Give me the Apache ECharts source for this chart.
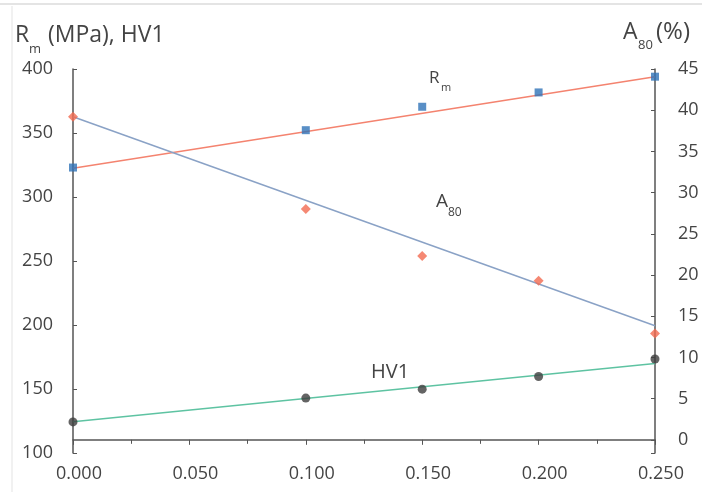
<!DOCTYPE html>
<html>
<head>
<meta charset="utf-8">
<script src="https://cdn.jsdelivr.net/npm/echarts@6/dist/echarts.min.js"></script>
<style>
  html, body { margin: 0; padding: 0; background: #fff; overflow: hidden; }
  /* canvas a bit wider than the window: right-hand tick labels run off the edge as in the scan */
  #chart { width: 730px; height: 497px; }
</style>
</head>
<body>
<div id="chart"></div>
<script>
// content values on the x axis
var contents = [0, 0.1, 0.15, 0.2, 0.25];
// measured points
var rmValues = [323, 352.2, 370.5, 381.7, 394];
var a80Values = [39.2, 28.0, 22.3, 19.3, 12.9];
var hv1Values = [124.3, 142.9, 149.9, 159.8, 173.4];
// trend lines (end points)
var fitX = [0, 0.25];
var rmFit = [322.5, 394];
var a80Fit = [39.2, 13.85];
var hv1Fit = [124.5, 170];
// tick labels of the right (A80) axis
var a80Ticks = [0, 5, 10, 15, 20, 25, 30, 35, 40, 45];

var FONT = '"Open Sans", sans-serif';
var AXIS_COLOR = '#555';
var TEXT_COLOR = '#444';

function pairs(xs, ys) {
  return xs.map(function (x, i) { return [x, ys[i]]; });
}

function txt(x, y, text, size) {
  return {
    type: 'text',
    style: {
      x: x, y: y, text: text,
      font: size + 'px ' + FONT,
      fill: TEXT_COLOR,
      verticalAlign: 'middle'
    },
    z: 10
  };
}

var chart = echarts.init(document.getElementById('chart'));

var option = {
  animation: false,
  backgroundColor: '#fff',
  textStyle: { fontFamily: FONT },
  grid: { left: 73, right: 75, top: 69, bottom: 44, outerBoundsMode: 'none', containLabel: false },
  xAxis: {
    type: 'value',
    min: 0,
    max: 0.25,
    interval: 0.05,
    axisLine: { show: true, lineStyle: { color: AXIS_COLOR, width: 1.5 } },
    axisTick: { show: true, length: 5, lineStyle: { color: AXIS_COLOR } },
    minorTick: { show: true, splitNumber: 2, length: 4, lineStyle: { color: AXIS_COLOR } },
    splitLine: { show: false },
    minorSplitLine: { show: false },
    axisLabel: {
      fontSize: 18, color: TEXT_COLOR, margin: 12,
      padding: [0, 0, 0, 12],
      formatter: function (v) { return v.toFixed(3); }
    }
  },
  yAxis: [
    {
      type: 'value',
      position: 'left',
      min: 100,
      max: 400,
      interval: 50,
      axisLine: { show: true, lineStyle: { color: AXIS_COLOR, width: 1.5 } },
      axisTick: { show: true, inside: true, length: 4, lineStyle: { color: AXIS_COLOR } },
      splitLine: { show: false },
      axisLabel: { fontSize: 18, color: TEXT_COLOR, margin: 20 }
    },
    {
      type: 'value',
      position: 'right',
      min: -1.6,
      max: 45,
      splitNumber: 9,
      axisLine: { show: true, lineStyle: { color: AXIS_COLOR, width: 1.5 } },
      axisTick: { show: true, inside: true, length: 4, lineStyle: { color: AXIS_COLOR } },
      splitLine: { show: false },
      // labels drawn below, so they can run past the right edge like the scan
      axisLabel: { show: false }
    }
  ],
  series: [
    {
      name: 'Rm fit', type: 'line', yAxisIndex: 0,
      data: pairs(fitX, rmFit), symbol: 'none',
      lineStyle: { color: '#f4836f', width: 1.5 }, z: 2
    },
    {
      name: 'A80 fit', type: 'line', yAxisIndex: 1,
      data: pairs(fitX, a80Fit), symbol: 'none',
      lineStyle: { color: '#8aa2c6', width: 1.5 }, z: 2
    },
    {
      name: 'HV1 fit', type: 'line', yAxisIndex: 0,
      data: pairs(fitX, hv1Fit), symbol: 'none',
      lineStyle: { color: '#5ec3a2', width: 1.5 }, z: 2
    },
    {
      name: 'Rm', type: 'scatter', yAxisIndex: 0,
      data: pairs(contents, rmValues),
      symbol: 'rect', symbolSize: 8,
      itemStyle: { color: '#2f73b8' }, z: 5
    },
    {
      name: 'A80', type: 'scatter', yAxisIndex: 1,
      data: pairs(contents, a80Values),
      symbol: 'diamond', symbolSize: 10,
      itemStyle: { color: '#f26a50' }, z: 5
    },
    {
      name: 'HV1', type: 'scatter', yAxisIndex: 0,
      data: pairs(contents, hv1Values),
      symbol: 'circle', symbolSize: 9,
      itemStyle: { color: '#3d3d3d' }, z: 5
    }
  ]
};

chart.setOption(option);

var graphics = [
  // faint scan border
  { type: 'line', shape: { x1: 0, y1: 4, x2: 730, y2: 4 }, style: { stroke: '#e4e4e4', lineWidth: 2 } },
  { type: 'line', shape: { x1: 12, y1: 6, x2: 12, y2: 492 }, style: { stroke: '#ececec', lineWidth: 1.5 } },
  // axis titles
  txt(15, 35, 'R', 23),
  txt(29, 49, 'm', 13),
  txt(48, 35, '(MPa), HV1', 23),
  txt(623, 32, 'A', 23),
  txt(638, 45, '80', 13),
  txt(656, 32, '(%)', 24),
  // curve labels
  txt(429, 78, 'R', 17),
  txt(441, 88, 'm', 11),
  txt(436, 202, 'A', 19),
  txt(448, 213, '80', 12),
  txt(371, 372, 'HV1', 20)
];

// right axis tick labels, placed through the A80 series' axes
a80Ticks.forEach(function (v) {
  var p = chart.convertToPixel({ seriesIndex: 4 }, [0.25, v]);
  if (p) graphics.push(txt(p[0] + 23, p[1], String(v), 18));
});

chart.setOption({ graphic: graphics });
</script>
</body>
</html>
